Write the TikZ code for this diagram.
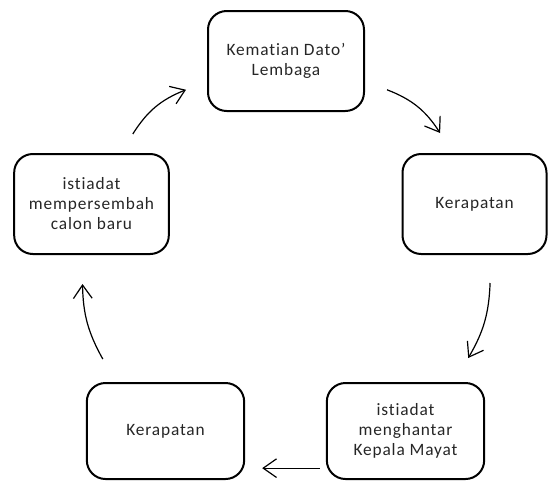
\documentclass[tikz,border=0pt]{standalone}
\usepackage{fontspec}
\setmainfont{Carlito}[Ligatures={NoCommon,NoContextual},LetterSpace=5]
\usetikzlibrary{arrows.meta}
\tikzset{
  tahap/.style={draw, line width=1.5pt, rounded corners=14pt, align=center,
    inner sep=2pt, text=black!85, font=\fontsize{13}{15}\selectfont},
  panah/.style={-{Straight Barb[length=10pt,width=14pt]}, line width=0.9pt},
}
\begin{document}
\begin{tikzpicture}[x=0.75pt,y=-0.75pt]
\useasboundingbox (0,0) rectangle (549,482);
% tahap-tahap
\node[tahap, minimum width=117pt, minimum height=75pt] (dato) at (286,61) {Kematian Dato’\\Lembaga};
\node[tahap, minimum width=108pt, minimum height=75pt] (rapat1) at (474.5,204) {Kerapatan};
\node[tahap, minimum width=118pt, minimum height=72pt] (kepala) at (405.5,431) {istiadat\\menghantar\\Kepala Mayat};
\node[tahap, minimum width=118pt, minimum height=72pt] (rapat2) at (165.5,431) {Kerapatan};
\node[tahap, minimum width=116pt, minimum height=75pt] (calon) at (91.5,204) {istiadat\\mempersembah\\calon baru};
% anak panah
\draw[panah] ([shift={(0,-19)}]calon.51) to[bend left=18] ([shift={(-21,0)}]dato.200);
\draw[panah] ([shift={(22,0)}]dato.340) to[bend left=18] ([shift={(0,-20)}]rapat1.124);
\draw[panah] ([shift={(0,28)}]rapat1.287) to[bend left=14] ([shift={(0,-24)}]kepala.38);
\draw[panah] ([shift={(-6,0)}]kepala.205) -- ([shift={(17,0)}]rapat2.335);
\draw[panah] ([shift={(0,-23)}]rapat2.142) to[bend left=14] ([shift={(0,29)}]calon.260);
\end{tikzpicture}
\end{document}
